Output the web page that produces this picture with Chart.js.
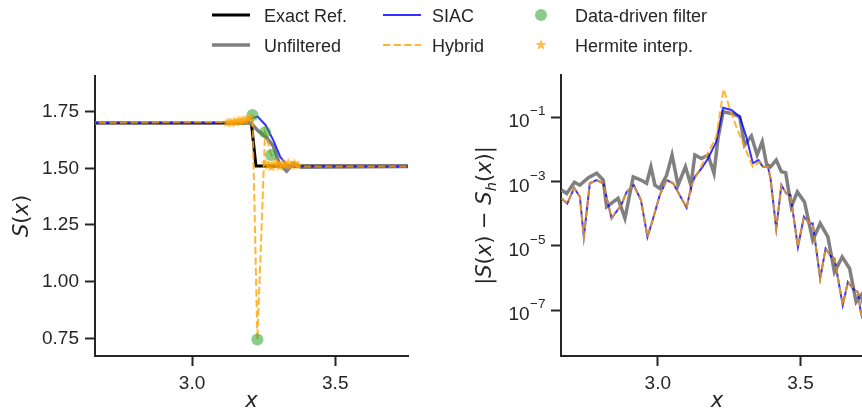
<!DOCTYPE html>
<html>
<head>
<meta charset="utf-8">
<script src="https://cdn.jsdelivr.net/npm/chart.js@4.4.1/dist/chart.umd.min.js"></script>
<style>
html, body { margin:0; padding:0; background:#fff; overflow:hidden; }
#wrap { position:relative; width:862px; height:414px; overflow:hidden; background:#fff; }
#wrap canvas { position:absolute; top:0; }
#leftChart { left:0; }
#rightChart { left:440px; }
.lg { position:absolute; }
.lt { position:absolute; font-size:18px; font-family:"Liberation Sans", Arial, sans-serif; color:#262626; line-height:20px; height:20px; white-space:nowrap; }
</style>
</head>
<body>
<div id="wrap">
  <canvas id="leftChart" width="430" height="414"></canvas>
  <canvas id="rightChart" width="440" height="414"></canvas>

  <svg class="lg" style="left:212px;top:10px" width="38" height="10"><line x1="0" y1="5" x2="38" y2="5" stroke="#000" stroke-width="3"/></svg>
  <div class="lt" style="left:264px;top:5.5px">Exact Ref.</div>
  <svg class="lg" style="left:212px;top:40px" width="38" height="10"><line x1="0" y1="5" x2="38" y2="5" stroke="#808080" stroke-width="3.5"/></svg>
  <div class="lt" style="left:264px;top:35.5px">Unfiltered</div>

  <svg class="lg" style="left:383px;top:10px" width="38" height="10"><line x1="0" y1="5" x2="38" y2="5" stroke="rgba(0,0,255,0.8)" stroke-width="2"/></svg>
  <div class="lt" style="left:432px;top:5.5px">SIAC</div>
  <svg class="lg" style="left:383px;top:40px" width="38" height="10"><line x1="0" y1="5" x2="38" y2="5" stroke="rgba(255,165,0,0.8)" stroke-width="2" stroke-dasharray="7.4 3.2"/></svg>
  <div class="lt" style="left:432px;top:35.5px">Hybrid</div>

  <svg class="lg" style="left:535px;top:9px" width="12" height="12"><circle cx="6" cy="6" r="6" fill="rgba(44,160,44,0.55)"/></svg>
  <div class="lt" style="left:575px;top:5.5px">Data-driven filter</div>
  <div id="legStar" class="lg" style="left:534px;top:38px;width:14px;height:14px"></div>
  <div class="lt" style="left:575px;top:35.5px">Hermite interp.</div>
</div>

<script>
const INK = "#262626";
const FONT = '"Liberation Sans", Arial, sans-serif';
const MATH_FONT = '"DejaVu Sans", sans-serif';

// ---------------- DATA ----------------
const xTicks = [3.0, 3.5];
const leftYTicks = [0.75, 1.00, 1.25, 1.50, 1.75];
const rightYTickExps = [-7, -5, -3, -1];

// left panel: S(x)
const exactX = [2.60, 3.207, 3.223, 3.80];
const exactY = [1.70, 1.70, 1.51, 1.51];

const unfilteredX = [2.60, 3.18, 3.205, 3.231, 3.257, 3.283, 3.305, 3.330, 3.355, 3.380, 3.80];
const unfilteredY = [1.70, 1.70, 1.70, 1.665, 1.64, 1.60, 1.52, 1.487, 1.522, 1.505, 1.508];

const siacX = [2.60, 3.18, 3.206, 3.229, 3.257, 3.285, 3.308, 3.330, 3.355, 3.80];
const siacY = [1.70, 1.70, 1.72, 1.728, 1.69, 1.62, 1.55, 1.515, 1.508, 1.508];

const hybridX = [2.60, 3.18, 3.211, 3.228, 3.255, 3.276, 3.305, 3.330, 3.80];
const hybridY = [1.70, 1.705, 1.73, 0.745, 1.659, 1.559, 1.52, 1.508, 1.508];

const dataDrivenX = [3.211, 3.228, 3.255, 3.276];
const dataDrivenY = [1.735, 0.745, 1.659, 1.559];

const hermiteX = [3.122, 3.130, 3.138, 3.146, 3.154, 3.162, 3.170, 3.178, 3.186, 3.194, 3.202,
                  3.257, 3.266, 3.276, 3.286, 3.296, 3.306, 3.316, 3.326, 3.336, 3.346, 3.358, 3.370];
const hermiteY = [1.700, 1.704, 1.700, 1.707, 1.703, 1.710, 1.706, 1.713, 1.710, 1.718, 1.722,
                  1.522, 1.512, 1.505, 1.521, 1.514, 1.508, 1.520, 1.514, 1.524, 1.512, 1.522, 1.512];

// right panel: log10 |S(x) - S_h(x)|
const unfErrX = [2.663, 2.681, 2.708, 2.727, 2.757, 2.786, 2.809, 2.821, 2.844, 2.861, 2.885,
                 2.914, 2.941, 2.961, 2.976, 2.990, 3.007, 3.031, 3.050, 3.071, 3.097, 3.116,
                 3.130, 3.153, 3.176, 3.197, 3.211, 3.229, 3.258, 3.287, 3.304, 3.328, 3.348,
                 3.366, 3.381, 3.395, 3.415, 3.433, 3.448, 3.468, 3.489, 3.514, 3.543, 3.569,
                 3.596, 3.619, 3.646, 3.672, 3.695, 3.712, 3.730];
const unfErrLog = [-3.26, -3.37, -3.02, -3.11, -2.88, -2.74, -2.95, -3.78, -3.63, -3.52, -4.14,
                   -2.85, -2.95, -3.05, -2.54, -3.11, -3.21, -2.80, -2.17, -3.11, -2.54, -3.11,
                   -2.17, -2.28, -2.17, -2.74, -1.65, -0.83, -0.88, -0.98, -1.86, -1.58, -2.17,
                   -1.76, -2.45, -2.54, -2.33, -2.69, -2.72, -3.78, -3.32, -3.63, -4.82, -4.30,
                   -4.72, -5.81, -5.34, -5.70, -6.74, -6.53, -7.10];

const siacErrX = [2.663, 2.683, 2.707, 2.727, 2.741, 2.762, 2.786, 2.809, 2.838, 2.873, 2.891,
                  2.916, 2.941, 2.964, 2.984, 3.007, 3.031, 3.054, 3.077, 3.101, 3.118, 3.130,
                  3.153, 3.176, 3.205, 3.229, 3.258, 3.287, 3.310, 3.333, 3.353, 3.368, 3.386,
                  3.395, 3.415, 3.433, 3.450, 3.465, 3.491, 3.512, 3.532, 3.543, 3.569, 3.588,
                  3.608, 3.619, 3.648, 3.666, 3.689, 3.701, 3.712, 3.730];
const siacErrLog = [-3.52, -3.68, -3.19, -3.47, -4.72, -3.05, -2.95, -3.05, -4.14, -3.71, -3.32,
                    -3.11, -3.57, -4.72, -4.14, -3.42, -2.95, -3.05, -3.42, -3.81, -3.11, -2.85,
                    -2.59, -2.28, -1.76, -0.70, -0.77, -0.98, -1.60, -2.43, -2.33, -2.54, -2.54,
                    -2.90, -4.46, -3.11, -3.37, -3.42, -5.03, -4.09, -4.30, -4.30, -6.01, -5.08,
                    -5.34, -5.39, -6.84, -6.12, -6.38, -6.43, -7.10, -7.60];

const hybErrX = [2.663, 2.683, 2.707, 2.727, 2.741, 2.762, 2.786, 2.809, 2.838, 2.873, 2.891,
                 2.916, 2.941, 2.964, 2.984, 3.007, 3.031, 3.054, 3.077, 3.101, 3.118, 3.205,
                 3.231, 3.252, 3.275, 3.304, 3.333, 3.357, 3.368, 3.386, 3.395, 3.415, 3.433,
                 3.450, 3.465, 3.491, 3.512, 3.532, 3.543, 3.569, 3.588, 3.608, 3.619, 3.648,
                 3.666, 3.689, 3.701, 3.712, 3.730];
const hybErrLog = [-3.52, -3.68, -3.19, -3.47, -4.72, -3.05, -2.95, -3.05, -4.14, -3.71, -3.32,
                   -3.11, -3.57, -4.72, -4.14, -3.42, -2.95, -3.05, -3.42, -3.81, -3.11, -1.60,
                   -0.12, -0.72, -1.29, -1.92, -2.54, -2.38, -2.54, -2.54, -2.90, -4.46, -3.11,
                   -3.37, -3.42, -5.03, -4.09, -4.30, -4.30, -6.01, -5.08, -5.34, -5.39, -6.84,
                   -6.12, -6.38, -6.43, -7.10, -7.60];

// ---------------- HELPERS ----------------
const pts = (xs, ys) => xs.map((x, i) => ({ x, y: ys[i] }));
const logPts = (xs, ls) => xs.map((x, i) => ({ x, y: Math.pow(10, ls[i]) }));

function makeStar(R, color) {
    const c = document.createElement("canvas");
    const s = Math.ceil(R * 2 + 2);
    c.width = s; c.height = s;
    const g = c.getContext("2d");
    g.beginPath();
    for (let i = 0; i < 10; i++) {
        const r = i % 2 ? R * 0.42 : R;
        const a = -Math.PI / 2 + i * Math.PI / 5;
        const px = s / 2 + r * Math.cos(a), py = s / 2 + r * Math.sin(a);
        if (i) g.lineTo(px, py); else g.moveTo(px, py);
    }
    g.closePath();
    g.fillStyle = color;
    g.fill();
    return c;
}

const STAR_COLOR = "rgba(255,165,0,0.7)";
const starImg = makeStar(5.5, STAR_COLOR);
document.getElementById("legStar").appendChild(makeStar(6, STAR_COLOR));

function drawMath(ctx, segs, cx, cy, size, rotate) {
    const fontOf = s => `${s.it ? "italic " : ""}${s.sub ? size * 0.7 : size}px ${MATH_FONT}`;
    let total = 0;
    const widths = segs.map(s => {
        ctx.font = fontOf(s);
        const w = ctx.measureText(s.t).width;
        total += w;
        return w;
    });
    ctx.save();
    ctx.translate(cx, cy);
    if (rotate) ctx.rotate(-Math.PI / 2);
    ctx.fillStyle = INK;
    ctx.textBaseline = "middle";
    ctx.textAlign = "left";
    let x = -total / 2;
    segs.forEach((s, i) => {
        ctx.font = fontOf(s);
        ctx.fillText(s.t, x, s.sub ? size * 0.28 : 0);
        x += widths[i];
    });
    ctx.restore();
}

// axis titles drawn as math-like text
const mathTitles = {
    id: "mathTitles",
    afterDraw(chart, args, opts) {
        const a = chart.chartArea;
        drawMath(chart.ctx, opts.x, (a.left + a.right) / 2, 402, 21, false);
        drawMath(chart.ctx, opts.y, opts.yCenter, (a.top + a.bottom) / 2, 21, true);
    }
};

// 10^n tick labels for the log axis
const powerLabels = {
    id: "powerLabels",
    afterDraw(chart) {
        const scale = chart.scales.y;
        if (scale.type !== "logarithmic") return;
        const ctx = chart.ctx;
        const right = chart.chartArea.left - 16;
        ctx.save();
        ctx.fillStyle = INK;
        ctx.textBaseline = "alphabetic";
        ctx.textAlign = "left";
        rightYTickExps.forEach(e => {
            const y = scale.getPixelForValue(Math.pow(10, e));
            const sup = "\u2212" + Math.abs(e);
            ctx.font = `13.5px ${FONT}`;
            const supW = ctx.measureText(sup).width;
            ctx.font = `19px ${FONT}`;
            const mainW = ctx.measureText("10").width;
            const x0 = right - supW - mainW;
            ctx.fillText("10", x0, y + 10);
            ctx.font = `13.5px ${FONT}`;
            ctx.fillText(sup, x0 + mainW + 0.5, y - 2);
        });
        ctx.restore();
    }
};

function axisBase() {
    return {
        border: { display: true, color: INK, width: 2 },
        grid: { drawOnChartArea: false, drawTicks: true, tickLength: 10, tickWidth: 2, tickColor: INK },
        ticks: { color: INK, font: { family: FONT, size: 19 }, padding: 6, maxRotation: 0 }
    };
}

function xAxis() {
    return Object.assign(axisBase(), {
        type: "linear",
        min: 2.661,
        max: 3.754,
        afterBuildTicks: s => { s.ticks = xTicks.map(v => ({ value: v })); },
        afterFit: s => { s.height = 58; }
    });
}

const lineDefaults = { pointRadius: 0, pointHoverRadius: 0, tension: 0, fill: false };

// ---------------- LEFT CHART ----------------
const leftYAxis = Object.assign(axisBase(), {
    type: "linear",
    min: 0.672,
    max: 1.907,
    afterBuildTicks: s => { s.ticks = leftYTicks.map(v => ({ value: v })); },
    afterFit: s => { s.width = 95; }
});
leftYAxis.ticks.callback = v => v.toFixed(2);
const leftXAxis = xAxis();
leftXAxis.ticks.callback = v => v.toFixed(1);

new Chart(document.getElementById("leftChart"), {
    type: "line",
    data: {
        datasets: [
            { ...lineDefaults, label: "Exact Ref.", data: pts(exactX, exactY), borderColor: "#000", borderWidth: 3, order: 6 },
            { ...lineDefaults, label: "Unfiltered", data: pts(unfilteredX, unfilteredY), borderColor: "#808080", borderWidth: 3.5, order: 5 },
            { ...lineDefaults, label: "SIAC", data: pts(siacX, siacY), borderColor: "rgba(0,0,255,0.8)", borderWidth: 2, order: 4 },
            { ...lineDefaults, label: "Hybrid", data: pts(hybridX, hybridY), borderColor: "rgba(255,165,0,0.8)", borderWidth: 2, borderDash: [7.4, 3.2], order: 3 },
            { label: "Data-driven filter", data: pts(dataDrivenX, dataDrivenY), showLine: false, pointRadius: 6, pointBorderWidth: 0,
              pointBackgroundColor: "rgba(44,160,44,0.55)", pointBorderColor: "rgba(0,0,0,0)", order: 2 },
            { label: "Hermite interp.", data: pts(hermiteX, hermiteY), showLine: false, pointStyle: starImg, pointRadius: 6, order: 1 }
        ]
    },
    options: {
        responsive: false,
        animation: false,
        devicePixelRatio: 1,
        layout: { padding: { left: 0, top: 76, right: 22, bottom: 0 } },
        scales: { x: leftXAxis, y: leftYAxis },
        plugins: {
            legend: { display: false },
            tooltip: { enabled: false },
            mathTitles: {
                x: [{ t: "x", it: true }],
                y: [{ t: "S", it: true }, { t: "(" }, { t: "x", it: true }, { t: ")" }],
                yCenter: 22.5
            }
        }
    },
    plugins: [mathTitles]
});

// ---------------- RIGHT CHART ----------------
const rightYAxis = Object.assign(axisBase(), {
    type: "logarithmic",
    min: 3.8e-9,
    max: 2.07,
    afterBuildTicks: s => { s.ticks = rightYTickExps.map(e => ({ value: Math.pow(10, e) })); },
    afterFit: s => { s.width = 121; }
});
rightYAxis.ticks.callback = () => "";
const rightXAxis = xAxis();
rightXAxis.ticks.callback = v => v.toFixed(1);

new Chart(document.getElementById("rightChart"), {
    type: "line",
    data: {
        datasets: [
            { ...lineDefaults, label: "Unfiltered", data: logPts(unfErrX, unfErrLog), borderColor: "#808080", borderWidth: 3.5, order: 3 },
            { ...lineDefaults, label: "SIAC", data: logPts(siacErrX, siacErrLog), borderColor: "rgba(0,0,255,0.8)", borderWidth: 2, order: 2 },
            { ...lineDefaults, label: "Hybrid", data: logPts(hybErrX, hybErrLog), borderColor: "rgba(255,165,0,0.8)", borderWidth: 2, borderDash: [7.4, 3.2], order: 1 }
        ]
    },
    options: {
        responsive: false,
        animation: false,
        devicePixelRatio: 1,
        layout: { padding: { left: 0, top: 75, right: 7, bottom: 0 } },
        scales: { x: rightXAxis, y: rightYAxis },
        plugins: {
            legend: { display: false },
            tooltip: { enabled: false },
            mathTitles: {
                x: [{ t: "x", it: true }],
                y: [{ t: "|" }, { t: "S", it: true }, { t: "(" }, { t: "x", it: true }, { t: ")" }, { t: " \u2212 " },
                    { t: "S", it: true }, { t: "h", it: true, sub: true }, { t: "(" }, { t: "x", it: true }, { t: ")|" }],
                yCenter: 46
            }
        }
    },
    plugins: [mathTitles, powerLabels]
});
</script>
</body>
</html>
